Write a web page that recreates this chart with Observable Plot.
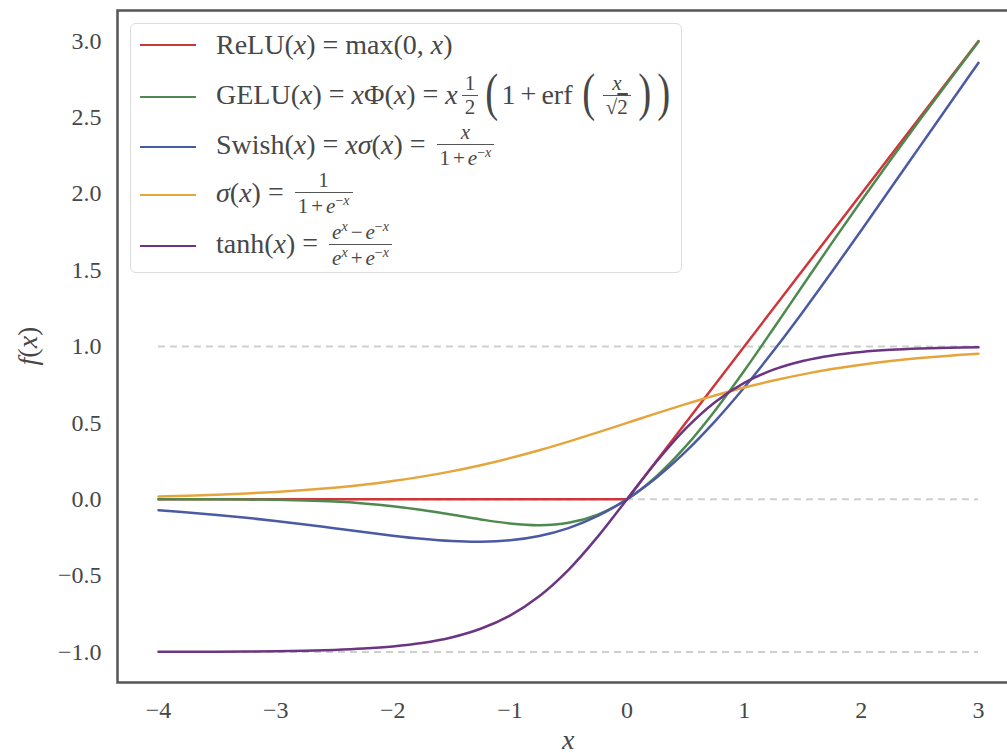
<!DOCTYPE html>
<html>
<head>
<meta charset="utf-8">
<script src="https://cdn.jsdelivr.net/npm/d3@7"></script>
<script src="https://cdn.jsdelivr.net/npm/@observablehq/plot@0.6"></script>
<style>
  html, body { margin: 0; padding: 0; overflow: hidden; background: #fff; }
  #wrap { position: relative; width: 1030px; height: 753px; font-family: "Liberation Serif", serif; color: #474747; }
  #legend { position: absolute; left: 130px; top: 23px; width: 552px; height: 250px; box-sizing: border-box;
            border: 1.5px solid #dcdcdc; border-radius: 6px; background: rgba(255,255,255,0.85); }
  .row { position: absolute; left: 9px; height: 0; display: flex; align-items: center; white-space: nowrap; font-size: 28px; }
  .handle { width: 56px; height: 0; border-top: 2.5px solid; margin-right: 20px; }
  .op { margin: 0 7px; }
  .bop { margin: 0 5px; }
  .frac { display: inline-flex; flex-direction: column; vertical-align: middle; font-size: 21px; text-align: center; margin: 0 4px; line-height: 1.0; position: relative; top: -2px; }
  .frac .num { border-bottom: 1px solid #555; padding: 0 3px 1px; }
  .frac .den { padding: 1px 3px 0; }
  .frac .bop { margin: 0 3px; }
  .big { font-size: 52px; display: inline-block; transform: scaleX(0.75); vertical-align: middle; position: relative; top: -5px; margin: 0 1px; }
  sup { font-size: 14px; vertical-align: 8px; }
  .lbl { position: absolute; font-size: 28px; line-height: 1; }
</style>
</head>
<body>
<div id="wrap">
  <div id="chart"></div>
  <div id="legend"></div>
  <div class="lbl" id="ylab"><i>f</i>(<i>x</i>)</div>
  <div class="lbl" id="xlab"><i>x</i></div>
</div>
<script>
// ---- data ----
const xs = [-4, -3.75, -3.5, -3.25, -3, -2.75, -2.5, -2.25, -2, -1.75, -1.5, -1.25, -1, -0.75, -0.5, -0.25,
            0, 0.25, 0.5, 0.75, 1, 1.25, 1.5, 1.75, 2, 2.25, 2.5, 2.75, 3];
const reluX = [-4, 0, 3];
const reluY = [0, 0, 3];
const gelu = [-0.0001, -0.0003, -0.0008, -0.0019, -0.0041, -0.0082, -0.0155, -0.0275, -0.0455, -0.0701, -0.1002, -0.1321, -0.1587, -0.1700, -0.1543, -0.1003,
              0, 0.1497, 0.3457, 0.5800, 0.8413, 1.1179, 1.3998, 1.6799, 1.9545, 2.2225, 2.4845, 2.7418, 2.9960];
const swish = [-0.0719, -0.0862, -0.1025, -0.1216, -0.1423, -0.1653, -0.1898, -0.2144, -0.2384, -0.2590, -0.2736, -0.2784, -0.2689, -0.2406, -0.1888, -0.1094,
               0, 0.1406, 0.3112, 0.5094, 0.7311, 0.9716, 1.2264, 1.4910, 1.7616, 2.0356, 2.3103, 2.5847, 2.8577];
const sigmoid = [0.0180, 0.0230, 0.0293, 0.0374, 0.0474, 0.0601, 0.0759, 0.0953, 0.1192, 0.1480, 0.1824, 0.2227, 0.2689, 0.3208, 0.3775, 0.4378,
                 0.5, 0.5622, 0.6225, 0.6792, 0.7311, 0.7773, 0.8176, 0.8520, 0.8808, 0.9047, 0.9241, 0.9399, 0.9526];
const tanh = [-0.9993, -0.9989, -0.9982, -0.9970, -0.9951, -0.9918, -0.9866, -0.9780, -0.9640, -0.9414, -0.9051, -0.8483, -0.7616, -0.6351, -0.4621, -0.2449,
              0, 0.2449, 0.4621, 0.6351, 0.7616, 0.8483, 0.9051, 0.9414, 0.9640, 0.9780, 0.9866, 0.9918, 0.9951];
const seriesNames = ["ReLU", "GELU", "Swish", "sigmoid", "tanh"];
const seriesColors = ["#cf3539", "#4e8a4f", "#4b5aa5", "#e6a53c", "#6c3583"];
const guideLevels = [1, 0, -1];
const guideRange = [-4, 3];
const xTicks = [-4, -3, -2, -1, 0, 1, 2, 3];
const yTicks = [-1, -0.5, 0, 0.5, 1, 1.5, 2, 2.5, 3];

// legend labels (HTML math)
const X = "<i>x</i>";
const EQ = `<span class="op">=</span>`;
const PLUS = `<span class="bop">+</span>`;
const frac = (n, d) => `<span class="frac"><span class="num">${n}</span><span class="den">${d}</span></span>`;
const emx = "<i>e</i><sup>−<i>x</i></sup>";
const epx = "<i>e</i><sup><i>x</i></sup>";
const legendLabels = [
  `ReLU(${X})${EQ}max(0, ${X})`,
  `GELU(${X})${EQ}${X}Φ(${X})${EQ}${X}${frac("1","2")}<span class="big">(</span>1${PLUS}erf <span class="big">(</span>${frac(X, "√<span style='text-decoration:overline'>2</span>")}<span class="big">)</span><span class="big">)</span>`,
  `Swish(${X})${EQ}${X}<i>σ</i>(${X})${EQ}${frac(X, "1" + PLUS + emx)}`,
  `<i>σ</i>(${X})${EQ}${frac("1", "1" + PLUS + emx)}`,
  `tanh(${X})${EQ}${frac(epx + "<span class='bop'>−</span>" + emx, epx + PLUS + emx)}`
];

// ---- build tidy tables ----
const reluData = reluX.map((x, i) => ({series: "ReLU", x, y: reluY[i]}));
const curves = [];
[["GELU", gelu], ["Swish", swish], ["sigmoid", sigmoid], ["tanh", tanh]].forEach(([name, arr]) =>
  arr.forEach((y, i) => curves.push({series: name, x: xs[i], y})));
const guides = guideLevels.map(y => ({y, x1: guideRange[0], x2: guideRange[1]}));

const FONT = "'Liberation Serif', serif";
const chart = Plot.plot({
  width: 1030,
  height: 753,
  marginLeft: 117,
  marginRight: 11,
  marginTop: 10,
  marginBottom: 71,
  style: {fontFamily: FONT, fontSize: "24px", color: "#474747", background: "transparent"},
  x: {domain: [-4.35, 3.35]},
  y: {domain: [-1.2, 3.2]},
  color: {domain: seriesNames, range: seriesColors},
  marks: [
    Plot.axisX({ticks: xTicks, tickSize: 0, tickPadding: 18, label: null, fontFamily: FONT, fontSize: 24, tickFormat: d => d3.format("d")(d)}),
    Plot.axisY({ticks: yTicks, tickSize: 0, tickPadding: 16, label: null, fontFamily: FONT, fontSize: 24, tickFormat: d3.format(".1f")}),
    Plot.ruleY(guides, {y: "y", x1: "x1", x2: "x2", stroke: "#cfcfcf", strokeWidth: 2, strokeDasharray: "7,5"}),
    Plot.line(reluData, {x: "x", y: "y", stroke: "series", strokeWidth: 2.5, curve: "linear"}),
    Plot.line(curves, {x: "x", y: "y", z: "series", stroke: "series", strokeWidth: 2.5, curve: "catmull-rom"}),
    Plot.frame({stroke: "#555", strokeWidth: 2.5})
  ]
});
document.getElementById("chart").appendChild(chart);

// legend
const rowCenters = [21, 73, 123, 171, 222];
const legend = document.getElementById("legend");
seriesNames.forEach((name, i) => {
  const row = document.createElement("div");
  row.className = "row";
  row.style.top = rowCenters[i] + "px";
  row.innerHTML = `<span class="handle" style="border-color:${seriesColors[i]}"></span><span>${legendLabels[i]}</span>`;
  legend.appendChild(row);
});

// axis labels (centred on the plot area)
const ylab = document.getElementById("ylab");
const yw = ylab.offsetWidth, yh = ylab.offsetHeight;
ylab.style.left = (28 - yw / 2) + "px"; ylab.style.top = (346 - yh / 2) + "px"; ylab.style.transform = "rotate(-90deg)";
const xlab = document.getElementById("xlab");
xlab.style.left = (568 - xlab.offsetWidth / 2) + "px"; xlab.style.top = (740 - xlab.offsetHeight / 2) + "px";
</script>
</body>
</html>
